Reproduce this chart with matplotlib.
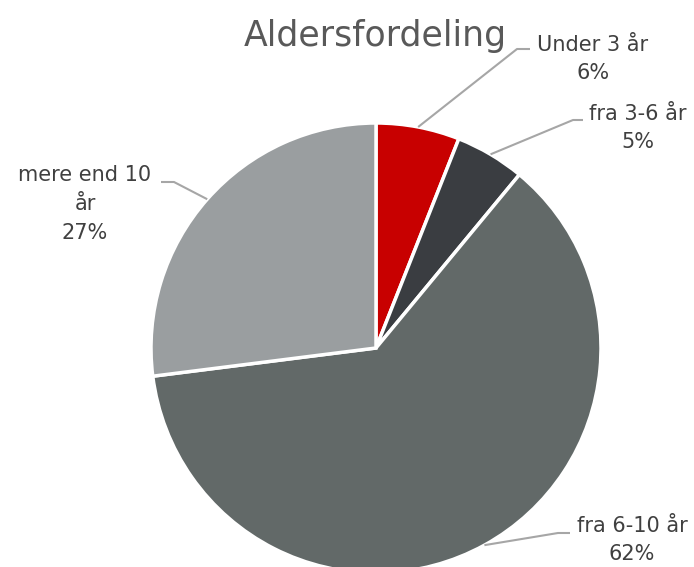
import numpy as np
import matplotlib
matplotlib.use("Agg")
import matplotlib.pyplot as plt

categories = ["Under 3 år", "fra 3-6 år", "fra 6-10 år", "mere end 10 år"]
values = [6, 5, 62, 27]
label_texts = ["Under 3 år\n6%", "fra 3-6 år\n5%", "fra 6-10 år\n62%", "mere end 10\når\n27%"]
colors = ["#C80000", "#3A3D41", "#626968", "#9A9EA0"]

W, H = 694, 567
fig = plt.figure(figsize=(W / 100, H / 100), dpi=100)
ax = fig.add_axes([0, 0, 1, 1])

def P(px, py):
    return px, H - py

cx, cy = P(376, 348)
R = 225
wedges, _ = ax.pie(values, colors=colors, startangle=90, counterclock=False,
                   center=(cx, cy), radius=R, frame=True,
                   wedgeprops=dict(edgecolor="white", linewidth=2.5))
ax.set_xlim(0, W)
ax.set_ylim(0, H)
ax.set_aspect("equal")
ax.axis("off")

ax.text(*P(375, 36), "Aldersfordeling", ha="center", va="center",
        fontsize=25, color="#595959", family="DejaVu Sans")

# label layout: (elbow point, line end, text center) in pixel coords
elbows = [(517, 49), (573, 120), (558, 533), (174, 182)]
ends = [(530, 49), (583, 120), (570, 533), (161, 182)]
text_pos = [(593, 59), (638, 128), (632, 540), (85, 204)]

for w, e, en, tp, t in zip(wedges, elbows, ends, text_pos, label_texts):
    ang = np.deg2rad((w.theta1 + w.theta2) / 2)
    ax_x = cx + R * np.cos(ang)
    ax_y = cy + R * np.sin(ang)
    ex, ey = P(*e)
    nx, ny = P(*en)
    ax.plot([ax_x, ex, nx], [ax_y, ey, ny], color="#A6A6A6", lw=1.5,
            solid_capstyle="butt", zorder=1)
    ax.text(*P(*tp), t, ha="center", va="center", fontsize=15,
            color="#404040", linespacing=1.55, family="DejaVu Sans")

fig.savefig("out.png", dpi=100)
